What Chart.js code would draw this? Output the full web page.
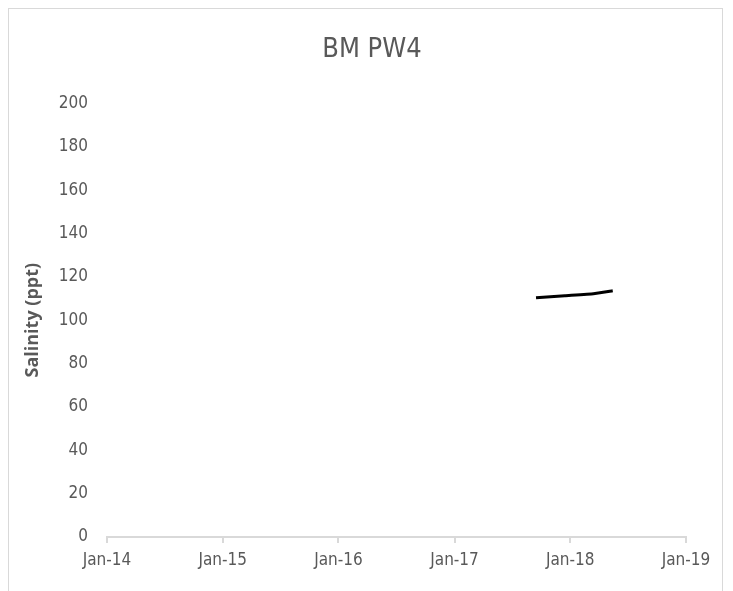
<!DOCTYPE html>
<html>
<head>
<meta charset="utf-8">
<script src="https://cdn.jsdelivr.net/npm/chart.js@4"></script>
<style>
  html, body { margin: 0; padding: 0; background: #fff; }
  #frame {
    position: absolute; left: 8px; top: 8px; width: 715px; height: 600px;
    border: 1px solid #d9d9d9; box-sizing: border-box;
  }
  #wrap { position: absolute; left: 0; top: 0; width: 733px; height: 591px; }
</style>
</head>
<body>
<div id="frame"></div>
<div id="wrap"><canvas id="line1" width="733" height="591"></canvas></div>
<script>
// sample dates and salinity readings
var sampleDates = [
    Date.UTC(2017, 8, 15),
    Date.UTC(2017, 11, 15),
    Date.UTC(2018, 2, 15),
    Date.UTC(2018, 4, 15)
];
var salinity = [110.3, 111.3, 112.2, 113.6];

var yearTicks = [
    Date.UTC(2014, 0, 1),
    Date.UTC(2015, 0, 1),
    Date.UTC(2016, 0, 1),
    Date.UTC(2017, 0, 1),
    Date.UTC(2018, 0, 1),
    Date.UTC(2019, 0, 1)
];
var yearLabels = ['Jan-14', 'Jan-15', 'Jan-16', 'Jan-17', 'Jan-18', 'Jan-19'];

var salinityChart;

function drawSalinityChart() {
    var ctx = document.getElementById('line1');
    var points = sampleDates.map(function (d, i) { return { x: d, y: salinity[i] }; });
    var narrow = '"DejaVu Sans Condensed", "Liberation Sans Narrow", Lato, sans-serif';
    var tickFont = { family: narrow, size: 17 };

    salinityChart = new Chart(ctx, {
        type: 'line',
        data: {
            datasets: [{
                label: 'Salinity',
                data: points,
                borderColor: '#000000',
                borderWidth: 3,
                pointRadius: 0,
                fill: false,
                tension: 0.1
            }]
        },
        options: {
            responsive: false,
            animation: false,
            // left padding pushes the title centre to the right like the original
            layout: { padding: { left: 58, right: 47, top: 26, bottom: 0 } },
            plugins: {
                legend: { display: false },
                tooltip: { enabled: false },
                title: {
                    display: true,
                    text: 'BM PW4',
                    color: '#595959',
                    font: { family: narrow, size: 27, weight: 'normal' },
                    padding: { top: 8, bottom: 37 }
                }
            },
            scales: {
                x: {
                    type: 'linear',
                    min: yearTicks[0],
                    max: yearTicks[yearTicks.length - 1],
                    afterBuildTicks: function (axis) {
                        axis.ticks = yearTicks.map(function (v) { return { value: v }; });
                    },
                    afterFit: function (axis) { axis.height = 54; },
                    grid: {
                        display: true,
                        drawOnChartArea: false,
                        drawTicks: true,
                        tickLength: 6,
                        color: '#d9d9d9',
                        lineWidth: 2
                    },
                    border: { display: true, color: '#d9d9d9', width: 2 },
                    ticks: {
                        color: '#595959',
                        font: tickFont,
                        padding: 7,
                        maxRotation: 0,
                        autoSkip: false,
                        callback: function (value) {
                            var i = yearTicks.indexOf(value);
                            return i >= 0 ? yearLabels[i] : '';
                        }
                    }
                },
                y: {
                    min: 0,
                    max: 200,
                    afterFit: function (axis) { axis.width = 49; },
                    grid: { display: false, drawTicks: false },
                    border: { display: false },
                    ticks: {
                        stepSize: 20,
                        color: '#595959',
                        font: tickFont,
                        padding: 19
                    },
                    title: {
                        display: true,
                        text: 'Salinity (ppt)',
                        color: '#595959',
                        font: { family: '"Open Sans", sans-serif', size: 18, weight: 'bold' },
                        padding: { top: -36, bottom: 4 }
                    }
                }
            }
        }
    });
}

drawSalinityChart();
</script>
</body>
</html>
